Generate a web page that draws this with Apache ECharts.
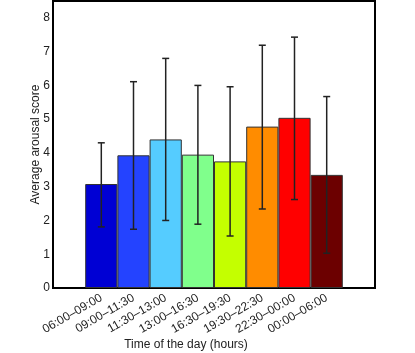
<!DOCTYPE html>
<html>
<head>
<meta charset="utf-8">
<script src="https://cdn.jsdelivr.net/npm/echarts@6/dist/echarts.min.js"></script>
<style>
  html, body { margin: 0; padding: 0; background: #fff; }
  #chart { width: 415px; height: 353px; }
</style>
</head>
<body>
<div id="chart"></div>
<script>
// time slots (first and last slots are empty padding on the axis)
const slots = ['', '06:00–09:00', '09:00–11:30', '11:30–13:00', '13:00–16:30',
  '16:30–19:30', '19:30–22:30', '22:30–00:00', '00:00–06:00', '']
const means = [3.08, 3.93, 4.40, 3.95, 3.75, 4.78, 5.04, 3.35]
const lower = [1.81, 1.74, 2.00, 1.89, 1.54, 2.34, 2.62, 1.03]
const upper = [4.30, 6.11, 6.80, 6.00, 5.96, 7.19, 7.43, 5.67]
const colors = ['#0000d4', '#2443ff', '#55ccff', '#80ff8c', '#c4ff00', '#ff8c00', '#ff0000', '#6c0000']

const font = 'Liberation Sans, Arial, sans-serif'
const chart = echarts.init(document.getElementById('chart'))

const barData = ['-'].concat(means.map((v, i) => ({
  value: v,
  itemStyle: { color: colors[i] },
}))).concat(['-'])

const errData = means.map((v, i) => [i + 1, lower[i], upper[i]])

chart.setOption({
  animation: false,
  grid: {
    left: 53, right: 40, top: 1, bottom: 65,
    outerBoundsMode: 'none', containLabel: false,
    show: true, borderColor: '#000', borderWidth: 2,
  },
  xAxis: {
    type: 'category',
    data: slots,
    axisLine: { show: false },
    axisTick: { show: false },
    axisLabel: {
      interval: 0, rotate: 30, margin: 9,
      color: '#222', fontSize: 12, fontFamily: font,
    },
    name: 'Time of the day (hours)',
    nameLocation: 'middle',
    nameGap: 51,
    nameMoveOverlap: false,
    nameTextStyle: { color: '#222', fontSize: 12, fontFamily: font, padding: [0, 56, 0, 0] },
  },
  yAxis: {
    type: 'value',
    min: 0, max: 8.5, interval: 1,
    axisLine: { show: false },
    axisTick: { show: false },
    splitLine: { show: false },
    axisLabel: {
      showMaxLabel: false, margin: 3,
      color: '#222', fontSize: 12, fontFamily: font,
    },
    name: 'Average arousal score',
    nameLocation: 'middle',
    nameGap: 11,
    nameMoveOverlap: false,
    nameTextStyle: { color: '#222', fontSize: 12, fontFamily: font },
  },
  series: [
    {
      type: 'bar',
      data: barData,
      barCategoryGap: '0%',
      itemStyle: { borderColor: '#333', borderWidth: 1 },
    },
    {
      type: 'custom',
      data: errData,
      encode: { x: 0, y: [1, 2] },
      z: 10,
      renderItem(params, api) {
        const lo = api.coord([api.value(0), api.value(1)])
        const hi = api.coord([api.value(0), api.value(2)])
        const cap = 3.5
        const style = { stroke: '#222', lineWidth: 1.5 }
        return {
          type: 'group',
          children: [
            { type: 'line', shape: { x1: lo[0], y1: lo[1], x2: hi[0], y2: hi[1] }, style },
            { type: 'line', shape: { x1: lo[0] - cap, y1: lo[1], x2: lo[0] + cap, y2: lo[1] }, style },
            { type: 'line', shape: { x1: hi[0] - cap, y1: hi[1], x2: hi[0] + cap, y2: hi[1] }, style },
          ],
        }
      },
    },
  ],
})
</script>
</body>
</html>
